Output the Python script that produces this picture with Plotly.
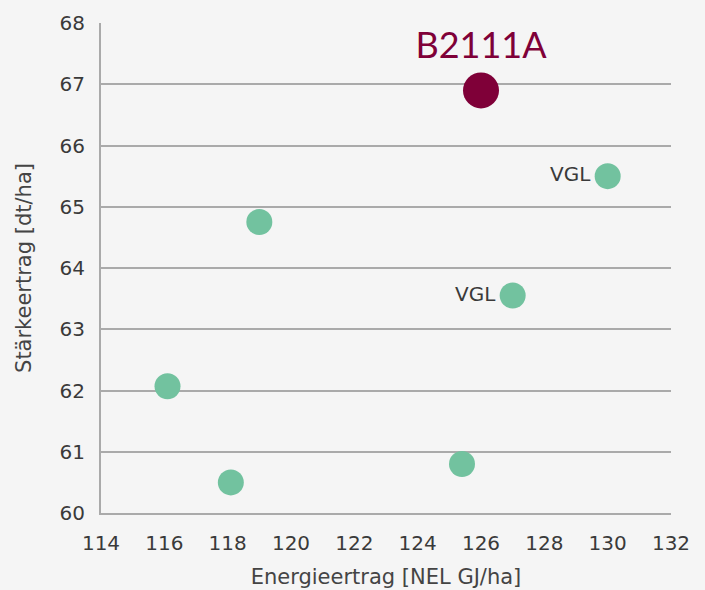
import plotly.graph_objects as go

# Data
energy_others = [130.0, 119.0, 127.0, 116.1, 118.1, 125.4]
starch_others = [65.5, 64.75, 63.55, 62.07, 60.5, 60.8]
labels_others = ["VGL", "", "VGL", "", "", ""]

energy_focus = [126.0]
starch_focus = [66.9]
labels_focus = ["B2111A"]

x_ticks = [114, 116, 118, 120, 122, 124, 126, 128, 130, 132]
y_ticks = [60, 61, 62, 63, 64, 65, 66, 67, 68]

FONT = "DejaVu Sans"
TEXT = "#3a3a3a"

fig = go.Figure()
fig.add_trace(go.Scatter(
    x=energy_others, y=starch_others, mode="markers+text",
    text=labels_others, textposition="middle left",
    textfont=dict(family=FONT, size=20, color=TEXT),
    marker=dict(size=26, color="#72c29f"),
    hoverinfo="x+y", showlegend=False,
))
fig.add_trace(go.Scatter(
    x=energy_focus, y=starch_focus, mode="markers+text",
    text=labels_focus, textposition="top center",
    textfont=dict(family="Lato", size=36, color="#7f0038"),
    marker=dict(size=36, color="#7f0038"),
    hoverinfo="x+y", showlegend=False,
))

fig.update_layout(
    width=705, height=590,
    margin=dict(l=101, r=34, t=23, b=77),
    paper_bgcolor="#f5f5f5", plot_bgcolor="#f5f5f5",
    font=dict(family=FONT, color=TEXT),
    xaxis=dict(
        range=[114, 132], tickvals=x_ticks, ticktext=[str(v) for v in x_ticks],
        showgrid=False, zeroline=False, automargin=False,
        showline=True, linecolor="#aaaaaa", linewidth=2,
        tickfont=dict(family=FONT, size=20, color=TEXT),
        ticklabelstandoff=11,
        title=dict(text="Energieertrag [NEL GJ/ha]", font=dict(family=FONT, size=21, color="#444444"), standoff=15),
        ticks="", ticklen=0,
    ),
    yaxis=dict(
        range=[60, 68], tickvals=y_ticks, ticktext=[str(v) for v in y_ticks],
        showgrid=True, gridcolor="#aaaaaa", gridwidth=2, zeroline=False, automargin=False,
        showline=True, linecolor="#aaaaaa", linewidth=2,
        tickfont=dict(family=FONT, size=20, color=TEXT),
        ticklabelstandoff=10,
        title=dict(text="Stärkeertrag [dt/ha]", font=dict(family=FONT, size=21, color="#444444"), standoff=22),
        ticks="", ticklen=0,
    ),
)

fig.write_html(
    "out.html",
    config={"displayModeBar": False},
    post_script="document.body.style.margin='0';document.body.style.background='#f5f5f5';",
)
